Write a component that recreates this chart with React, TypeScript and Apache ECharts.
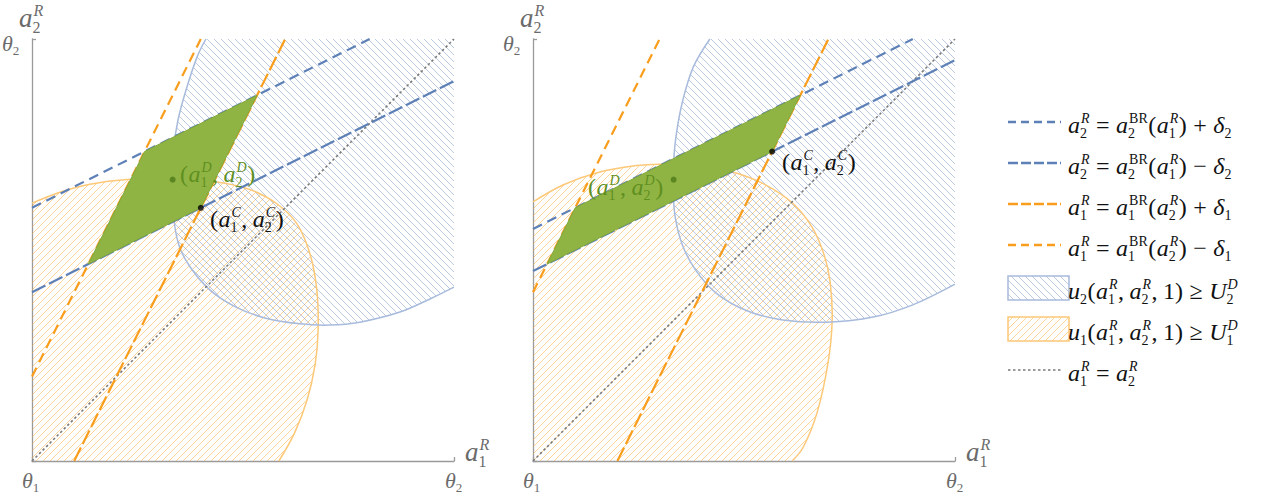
import React, { useEffect, useRef } from "react";
import * as echarts from "echarts";

// ---------- data (normalised: θ1 = 0, θ2 = 1) ----------
const LEFT_BLUE_ARC: number[][] = [
  [0.412, 1], [0.391, 0.957], [0.365, 0.879], [0.346, 0.808], [0.335, 0.737], [0.332, 0.666],
  [0.335, 0.583], [0.348, 0.512], [0.374, 0.461], [0.422, 0.405], [0.481, 0.366], [0.552, 0.339],
  [0.635, 0.325], [0.706, 0.322], [0.777, 0.329], [0.872, 0.353], [0.943, 0.384], [1, 0.412],
];
const LEFT_ORANGE_ARC: number[][] = [
  [0, 0.611], [0.066, 0.637], [0.137, 0.656], [0.225, 0.667], [0.332, 0.668], [0.434, 0.662],
  [0.517, 0.643], [0.581, 0.609], [0.628, 0.562], [0.659, 0.49], [0.675, 0.405], [0.678, 0.31],
  [0.671, 0.229], [0.652, 0.145], [0.622, 0.066], [0.585, 0],
];
const RIGHT_BLUE_ARC: number[][] = [
  [0.419, 1], [0.38, 0.934], [0.355, 0.855], [0.34, 0.777], [0.333, 0.706], [0.332, 0.642],
  [0.337, 0.578], [0.354, 0.512], [0.385, 0.453], [0.434, 0.398], [0.507, 0.356], [0.592, 0.334],
  [0.697, 0.329], [0.806, 0.341], [0.9, 0.37], [1, 0.419],
];
const RIGHT_ORANGE_ARC: number[][] = [
  [0, 0.614], [0.071, 0.654], [0.152, 0.683], [0.246, 0.700], [0.325, 0.704], [0.403, 0.699],
  [0.483, 0.682], [0.55, 0.655], [0.614, 0.612], [0.661, 0.555], [0.69, 0.488], [0.704, 0.425],
  [0.709, 0.334], [0.699, 0.232], [0.673, 0.114], [0.64, 0.032], [0.614, 0],
];
const LEFT_GREEN: number[][] = [[0.1333, 0.4667], [0.2667, 0.7333], [0.5333, 0.8667], [0.4, 0.6]];
const RIGHT_GREEN: number[][] = [[0.0333, 0.4667], [0.1, 0.6], [0.6333, 0.8667], [0.5667, 0.7333]];

const LEFT_BLUE_PLUS = [[0, 0.6], [0.8, 1]];
const LEFT_BLUE_MINUS = [[0, 0.4], [1, 0.9]];
const LEFT_ORANGE_PLUS = [[0.1, 0], [0.6, 1]];
const LEFT_ORANGE_MINUS = [[0, 0.2], [0.4, 1]];
const RIGHT_BLUE_PLUS = [[0, 0.55], [0.9, 1]];
const RIGHT_BLUE_MINUS = [[0, 0.45], [1, 0.95]];
const RIGHT_ORANGE_PLUS = [[0.2, 0], [0.7, 1]];
const RIGHT_ORANGE_MINUS = [[0, 0.4], [0.3, 1]];
const DIAGONAL = [[0, 0], [1, 1]];

const LEFT_D = [0.3333, 0.6667];
const LEFT_C = [0.4, 0.6];
const RIGHT_D = [0.3333, 0.6667];
const RIGHT_C = [0.5667, 0.7333];

// ---------- styling ----------
const SERIF = "Liberation Serif";
const BLUE = "#5d80b6";
const ORANGE = "#f99d1c";
const BLUE_ARC = "#a8bbdc";
const ORANGE_ARC = "#fdc878";
const GRAY_TXT = "#6b6b6b";
const DASH_SHORT = [10, 6];
const DASH_LONG = [15, 4];
const DOT = [2.5, 2.5];

const GRID_W = 422;
const PANELS = [
  { left: 32, top: 39 },
  { left: 533, top: 39 },
];

function hatch(color: string, dir: number, s = 7, lw = 1) {
  const c = document.createElement("canvas");
  c.width = s;
  c.height = s;
  const g = c.getContext("2d")!;
  g.strokeStyle = color;
  g.lineWidth = lw;
  g.beginPath();
  if (dir > 0) {
    g.moveTo(-1, s + 1); g.lineTo(s + 1, -1);
    g.moveTo(-1, 1); g.lineTo(1, -1);
    g.moveTo(s - 1, s + 1); g.lineTo(s + 1, s - 1);
  } else {
    g.moveTo(-1, -1); g.lineTo(s + 1, s + 1);
    g.moveTo(s - 1, -1); g.lineTo(s + 1, 1);
    g.moveTo(-1, s - 1); g.lineTo(1, s + 1);
  }
  g.stroke();
  return { image: c.toDataURL(), repeat: "repeat", imageWidth: s, imageHeight: s };
}

let mctx: CanvasRenderingContext2D | null = null;
function measure(t: string, size: number, italic: boolean) {
  if (!mctx) mctx = document.createElement("canvas").getContext("2d");
  mctx!.font = `${italic ? "italic " : ""}${size}px "${SERIF}"`;
  return mctx!.measureText(t).width;
}
type Tok = { t?: string; i?: boolean; sub?: string; sup?: string; subI?: boolean; supI?: boolean; g?: number };
function txt(t: string, x: number, y: number, size: number, italic: boolean, color: string) {
  return {
    type: "text",
    z: 100,
    silent: true,
    style: {
      text: t, x, y, fill: color, fontSize: size, fontFamily: SERIF, fontStyle: italic ? "italic" : "normal",
      align: "left", verticalAlign: "middle", textAlign: "left", textVerticalAlign: "middle",
    },
  };
}
function mathText(x0: number, y: number, toks: Tok[], F: number, color: string): any[] {
  const out: any[] = [];
  let x = x0;
  const s = Math.round(F * 0.58);
  for (const k of toks) {
    if (k.g) { x += k.g; continue; }
    if (k.t) {
      out.push(txt(k.t, x, y, F, !!k.i, color));
      x += measure(k.t, F, !!k.i);
    }
    let w = 0;
    if (k.sup) {
      const off = k.i ? 1 : 0;
      out.push(txt(k.sup, x + off, y - 0.27 * F, s, !!k.supI, color));
      w = Math.max(w, measure(k.sup, s, !!k.supI) + off);
    }
    if (k.sub) {
      out.push(txt(k.sub, x, y + 0.34 * F, s, !!k.subI, color));
      w = Math.max(w, measure(k.sub, s, !!k.subI));
    }
    x += w + 0.5;
  }
  return out;
}
const aR = (n: string): Tok => ({ t: "a", i: true, sub: n, sup: "R", supI: true });
const aBR = (n: string): Tok => ({ t: "a", i: true, sub: n, sup: "BR" });

export default function App() {
  const ref = useRef<HTMLDivElement>(null);
  useEffect(() => {
    if (!ref.current) return;
    const chart = echarts.init(ref.current, undefined, { renderer: "svg" });
    const blueHatch = hatch("rgba(93,128,182,0.42)", -1);
    const orangeHatch = hatch("rgba(255,165,40,0.48)", 1);
    const greenFill = "#8fb443";

    const region = (gi: number, pts: number[][], fill: any) => ({
      type: "custom", xAxisIndex: gi, yAxisIndex: gi, data: [[0, 0]], silent: true, z: 1,
      renderItem: (_p: any, api: any) => ({
        type: "polygon", shape: { points: pts.map((p) => api.coord(p)) }, style: { fill, stroke: "none" },
      }),
    });
    const arc = (gi: number, pts: number[][], color: string) => ({
      type: "custom", xAxisIndex: gi, yAxisIndex: gi, data: [[0, 0]], silent: true, z: 2,
      renderItem: (_p: any, api: any) => ({
        type: "polyline", shape: { points: pts.map((p) => api.coord(p)), smooth: 0.35 }, style: { fill: "none", stroke: color, lineWidth: 1.5 },
      }),
    });
    const green = (gi: number, pts: number[][]) => ({
      type: "custom", xAxisIndex: gi, yAxisIndex: gi, data: [[0, 0]], silent: true, z: 4,
      renderItem: (_p: any, api: any) => ({
        type: "polygon", shape: { points: pts.map((p) => api.coord(p)) }, style: { fill: greenFill, stroke: "#82a83c", lineWidth: 1 },
      }),
    });
    const line = (gi: number, pts: number[][], color: string, dash: number[], w = 2.2) => ({
      type: "line", xAxisIndex: gi, yAxisIndex: gi, data: pts, symbol: "none", silent: true, z: 3,
      lineStyle: { color, width: w, type: dash },
    });
    const dot = (gi: number, p: number[], color: string) => ({
      type: "scatter", xAxisIndex: gi, yAxisIndex: gi, data: [p], symbolSize: 6, silent: true, z: 5,
      itemStyle: { color },
    });

    const series: any[] = [];
    const panelData = [
      { blue: LEFT_BLUE_ARC, orange: LEFT_ORANGE_ARC, green: LEFT_GREEN, bp: LEFT_BLUE_PLUS, bm: LEFT_BLUE_MINUS, op: LEFT_ORANGE_PLUS, om: LEFT_ORANGE_MINUS, D: LEFT_D, C: LEFT_C },
      { blue: RIGHT_BLUE_ARC, orange: RIGHT_ORANGE_ARC, green: RIGHT_GREEN, bp: RIGHT_BLUE_PLUS, bm: RIGHT_BLUE_MINUS, op: RIGHT_ORANGE_PLUS, om: RIGHT_ORANGE_MINUS, D: RIGHT_D, C: RIGHT_C },
    ];
    panelData.forEach((d, gi) => {
      series.push(region(gi, [[0, 0], ...d.orange], orangeHatch));
      series.push(region(gi, [...d.blue, [1, 1]], blueHatch));
      series.push(arc(gi, d.orange, ORANGE_ARC));
      series.push(arc(gi, d.blue, BLUE_ARC));
      series.push(line(gi, DIAGONAL, "#7a7a7a", DOT, 1.6));
      series.push(line(gi, d.bp, BLUE, DASH_SHORT));
      series.push(line(gi, d.bm, BLUE, DASH_LONG));
      series.push(line(gi, d.op, ORANGE, DASH_LONG));
      series.push(line(gi, d.om, ORANGE, DASH_SHORT));
      series.push(green(gi, d.green));
      series.push(dot(gi, d.D, "#4e7a1a"));
      series.push(dot(gi, d.C, "#000"));
    });

    const axis = (gi: number) => ({
      type: "value", gridIndex: gi, min: 0, max: 1, interval: 1,
      axisLine: { show: true, lineStyle: { color: "#9a9a9a", width: 1.3 } },
      axisTick: { show: true, inside: true, length: 4, lineStyle: { color: "#9a9a9a", width: 1.3 } },
      axisLabel: { show: false }, splitLine: { show: false },
    });

    const graphics: any[] = [];
    PANELS.forEach((p) => {
      const ox = p.left - 32;
      graphics.push(...mathText(19 + ox, 18, [aR("2")], 27, GRAY_TXT));
      graphics.push(...mathText(2 + ox, 43.5, [{ t: "θ", i: true, sub: "2" }], 22, GRAY_TXT));
      graphics.push(...mathText(22 + ox, 480, [{ t: "θ", i: true, sub: "1" }], 22, GRAY_TXT));
      graphics.push(...mathText(445 + ox, 480, [{ t: "θ", i: true, sub: "2" }], 22, GRAY_TXT));
      graphics.push(...mathText(465 + ox, 452, [aR("1")], 27, GRAY_TXT));
    });
    const Dtok = (n: string): Tok => ({ t: "a", i: true, sub: n, sup: "D", supI: true });
    const Ctok = (n: string): Tok => ({ t: "a", i: true, sub: n, sup: "C", supI: true });
    const GREEN_TXT = "#5f8f1f";
    graphics.push(...mathText(180, 174, [{ t: "(" }, Dtok("1"), { t: "," }, { g: 5 }, Dtok("2"), { t: ")" }], 24, GREEN_TXT));
    graphics.push(...mathText(210, 219, [{ t: "(" }, Ctok("1"), { t: "," }, { g: 5 }, Ctok("2"), { t: ")" }], 24, "#111"));
    graphics.push(...mathText(588, 187, [{ t: "(" }, Dtok("1"), { t: "," }, { g: 5 }, Dtok("2"), { t: ")" }], 24, GREEN_TXT));
    graphics.push(...mathText(782, 162, [{ t: "(" }, Ctok("1"), { t: "," }, { g: 5 }, Ctok("2"), { t: ")" }], 24, "#111"));

    // legend
    const LX = 1008, LW = 53, TX = 1068, F = 24, G = 6;
    const legendRows: { y: number; kind: string; color?: string; dash?: number[]; toks: Tok[] }[] = [
      { y: 122, kind: "line", color: BLUE, dash: [8, 5], toks: [aR("2"), { g: G }, { t: "=" }, { g: G }, aBR("2"), { t: "(" }, aR("1"), { t: ")" }, { g: G }, { t: "+" }, { g: G }, { t: "δ", i: true, sub: "2" }] },
      { y: 163, kind: "line", color: BLUE, dash: [10, 3], toks: [aR("2"), { g: G }, { t: "=" }, { g: G }, aBR("2"), { t: "(" }, aR("1"), { t: ")" }, { g: G }, { t: "−" }, { g: G }, { t: "δ", i: true, sub: "2" }] },
      { y: 204, kind: "line", color: ORANGE, dash: [10, 3], toks: [aR("1"), { g: G }, { t: "=" }, { g: G }, aBR("1"), { t: "(" }, aR("2"), { t: ")" }, { g: G }, { t: "+" }, { g: G }, { t: "δ", i: true, sub: "1" }] },
      { y: 245, kind: "line", color: ORANGE, dash: [8, 5], toks: [aR("1"), { g: G }, { t: "=" }, { g: G }, aBR("1"), { t: "(" }, aR("2"), { t: ")" }, { g: G }, { t: "−" }, { g: G }, { t: "δ", i: true, sub: "1" }] },
      { y: 288, kind: "blue", toks: [{ t: "u", i: true, sub: "2" }, { t: "(" }, aR("1"), { t: "," }, { g: 5 }, aR("2"), { t: "," }, { g: 5 }, { t: "1)" }, { g: G }, { t: "≥" }, { g: G }, { t: "U", i: true, sub: "2", sup: "D", supI: true }] },
      { y: 329, kind: "orange", toks: [{ t: "u", i: true, sub: "1" }, { t: "(" }, aR("1"), { t: "," }, { g: 5 }, aR("2"), { t: "," }, { g: 5 }, { t: "1)" }, { g: G }, { t: "≥" }, { g: G }, { t: "U", i: true, sub: "1", sup: "D", supI: true }] },
      { y: 370, kind: "line", color: "#7a7a7a", dash: [2.5, 2.5], toks: [aR("1"), { g: G }, { t: "=" }, { g: G }, aR("2")] },
    ];
    legendRows.forEach((r) => {
      if (r.kind === "line") {
        graphics.push({ type: "line", z: 100, silent: true, shape: { x1: LX, y1: r.y, x2: LX + LW, y2: r.y }, style: { stroke: r.color, lineWidth: r.color === "#7a7a7a" ? 1.6 : 2.4, lineDash: r.dash } });
      } else {
        const blue = r.kind === "blue";
        graphics.push({ type: "rect", z: 100, silent: true, shape: { x: LX, y: r.y - 12, width: 61, height: 24 }, style: { fill: blue ? blueHatch : orangeHatch, stroke: blue ? BLUE_ARC : ORANGE_ARC, lineWidth: 1.5 } });
      }
      graphics.push(...mathText(TX, r.y + 3, r.toks, F, "#111"));
    });

    chart.setOption({
      animation: false,
      backgroundColor: "#fff",
      grid: PANELS.map((p) => ({ left: p.left, top: p.top, width: GRID_W, height: GRID_W, containLabel: false })),
      xAxis: [axis(0), axis(1)],
      yAxis: [axis(0), axis(1)],
      series,
      graphic: graphics,
    });
    return () => chart.dispose();
  }, []);
  return <div ref={ref} style={{ position: "absolute", left: 0, top: 0, width: 1266, height: 497 }} />;
}
